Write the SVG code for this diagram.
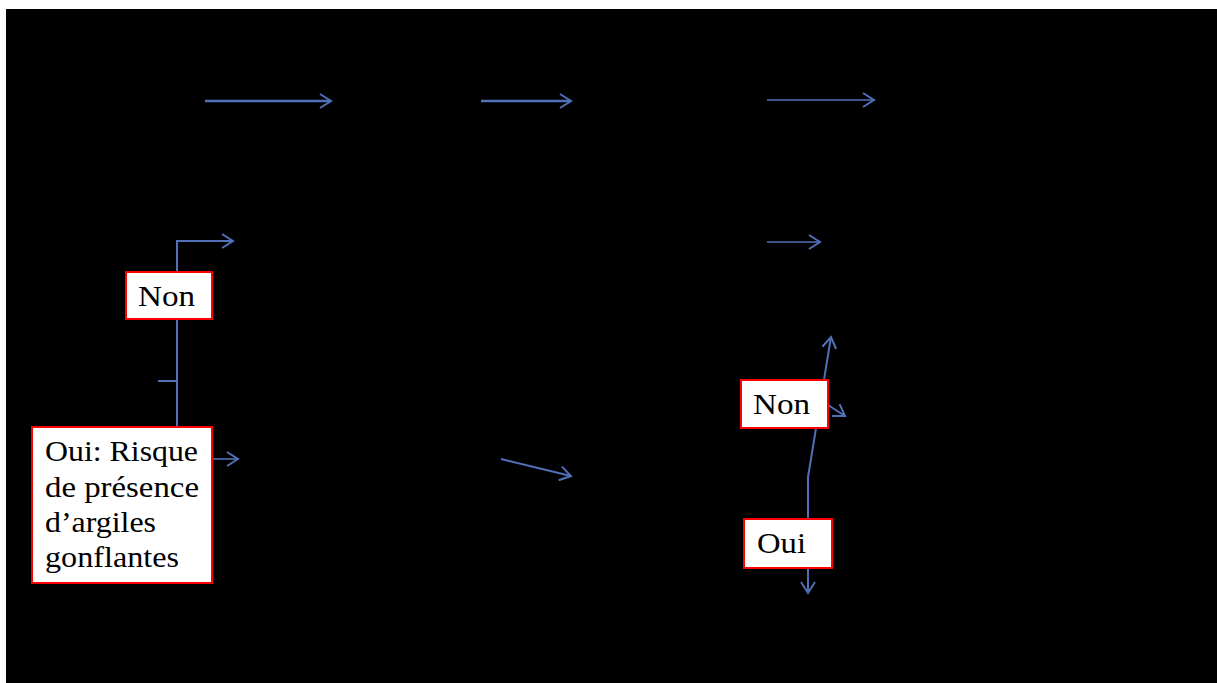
<svg xmlns="http://www.w3.org/2000/svg" width="1217" height="683" viewBox="0 0 1217 683">
<style>
.bg{fill:#000}
.box{fill:#fff;stroke:#ff0000;stroke-width:2}
.lbl{font-family:"Liberation Serif","Times New Roman",serif;font-size:30px;fill:#000}
.c{fill:none;stroke:#5070b8;stroke-width:2}
.t{stroke-width:2.6}
.h{marker-end:url(#ah)}
</style>
<defs>
<marker id="ah" markerUnits="userSpaceOnUse" markerWidth="16" markerHeight="18" refX="13" refY="9" orient="auto">
<path d="M2,2 L13,9 L2,16" fill="none" stroke="#5070b8" stroke-width="2"/>
</marker>
</defs>
<rect class="bg" x="6" y="9" width="1211" height="674"/>
<g id="connectors">
<line class="c t h" x1="205" y1="101" x2="331" y2="101"/>
<line class="c t h" x1="481" y1="101" x2="571" y2="101"/>
<line class="c h" x1="767" y1="100" x2="874" y2="100" style="stroke-width:1.6"/>
<path class="c h" d="M177,272 L177,241 L233,241"/>
<line class="c" x1="177" y1="319" x2="177" y2="427"/>
<line class="c" x1="158" y1="381" x2="177" y2="381"/>
<line class="c h" x1="213" y1="459" x2="238" y2="459" style="stroke-width:1.6"/>
<line class="c h" x1="501" y1="459" x2="571" y2="476"/>
<line class="c h" x1="767" y1="242" x2="820" y2="242" style="stroke-width:1.6"/>
<path class="c h" d="M808,519 L808,477 L831,337"/>
<line class="c h" x1="828" y1="405" x2="845" y2="416"/>
<line class="c h" x1="808" y1="568" x2="808" y2="593"/>
</g>
<g id="node-non-left">
<rect class="box" x="126" y="272" width="86" height="47"/>
<text class="lbl" x="138" y="306" textLength="57" lengthAdjust="spacingAndGlyphs">Non</text>
</g>
<g id="node-oui-left">
<rect class="box" x="32" y="427" width="180" height="156"/>
<text class="lbl" x="45" y="461" textLength="153" lengthAdjust="spacingAndGlyphs">Oui: Risque</text>
<text class="lbl" x="45" y="497" textLength="154" lengthAdjust="spacingAndGlyphs">de présence</text>
<text class="lbl" x="45" y="532" textLength="111" lengthAdjust="spacingAndGlyphs">d’argiles</text>
<text class="lbl" x="45" y="567" textLength="134" lengthAdjust="spacingAndGlyphs">gonflantes</text>
</g>
<g id="node-non-right">
<rect class="box" x="741" y="380" width="87" height="48"/>
<text class="lbl" x="753" y="414" textLength="57" lengthAdjust="spacingAndGlyphs">Non</text>
</g>
<g id="node-oui-right">
<rect class="box" x="744" y="519" width="88" height="49"/>
<text class="lbl" x="757" y="553" textLength="49" lengthAdjust="spacingAndGlyphs">Oui</text>
</g>
</svg>
